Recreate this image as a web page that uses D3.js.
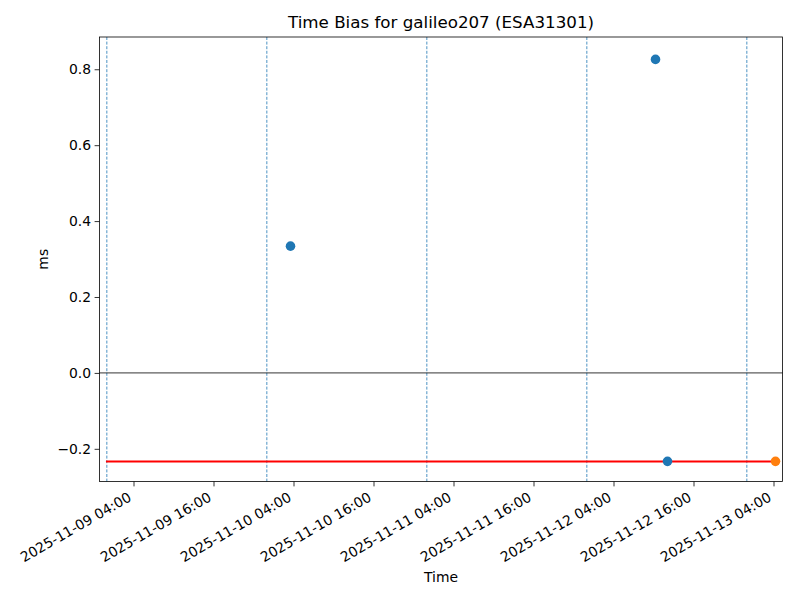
<!DOCTYPE html>
<html>
<head>
<meta charset="utf-8">
<script src="https://cdn.jsdelivr.net/npm/d3@7"></script>
<style>
  body { margin: 0; background: #fff; }
  svg text { font-family: "DejaVu Sans", sans-serif; }
</style>
</head>
<body>
<svg id="chart" width="800" height="600"></svg>
<script>
// ---- data ----
const blueTimes = ["2025-11-10T03:33", "2025-11-12T10:18", "2025-11-12T12:06"];
const blueValues = [0.334, 0.826, -0.233];
const orangeTimes = ["2025-11-13T04:18"];
const orangeValues = [-0.233];
const refLineTimes = ["2025-11-08T23:52", "2025-11-13T04:18"];
const refLineValue = -0.2334;
const dayLines = ["2025-11-09T00:00", "2025-11-10T00:00", "2025-11-11T00:00", "2025-11-12T00:00", "2025-11-13T00:00"];
const xTicks = ["2025-11-09T04:00", "2025-11-09T16:00", "2025-11-10T04:00", "2025-11-10T16:00", "2025-11-11T04:00", "2025-11-11T16:00", "2025-11-12T04:00", "2025-11-12T16:00", "2025-11-13T04:00"];
const yTicks = [-0.2, 0.0, 0.2, 0.4, 0.6, 0.8];
const xDomain = ["2025-11-08T22:54", "2025-11-13T05:21"];
const yDomain = [-0.2861, 0.8850];
const titleText = "Time Bias for galileo207 (ESA31301)";
const xLabel = "Time";
const yLabel = "ms";

(function () {
// ---- layout ----
const parse = d3.timeParse("%Y-%m-%dT%H:%M");
const pl = 99.5, pr = 782.5, pt = 37, pb = 481.5;
const svg = d3.select("#chart");
const x = d3.scaleTime().domain(xDomain.map(parse)).range([pl, pr]);
const y = d3.scaleLinear().domain(yDomain).range([pb, pt]);
const fmt = d3.timeFormat("%Y-%m-%d %H:%M");

const plot = svg.append("g");

// day lines
plot.selectAll("line.day").data(dayLines).enter().append("line")
  .attr("x1", d => x(parse(d))).attr("x2", d => x(parse(d)))
  .attr("y1", pt).attr("y2", pb)
  .attr("stroke", "#1f77b4").attr("stroke-width", 0.8)
  .attr("stroke-dasharray", "3,1.6");

// zero line
plot.append("line")
  .attr("x1", pl).attr("x2", pr)
  .attr("y1", y(0)).attr("y2", y(0))
  .attr("stroke", "#000").attr("stroke-width", 0.8);

// reference red line
plot.append("path")
  .datum(refLineTimes)
  .attr("d", d3.line().x(d => x(parse(d))).y(() => y(refLineValue)))
  .attr("stroke", "#ff0000").attr("stroke-width", 2).attr("fill", "none");

// points
plot.selectAll("circle.blue").data(blueTimes.map((t, i) => [t, blueValues[i]])).enter().append("circle")
  .attr("cx", d => x(parse(d[0]))).attr("cy", d => y(d[1])).attr("r", 4.8)
  .attr("fill", "#1f77b4");
plot.selectAll("circle.orange").data(orangeTimes.map((t, i) => [t, orangeValues[i]])).enter().append("circle")
  .attr("cx", d => x(parse(d[0]))).attr("cy", d => y(d[1])).attr("r", 4.8)
  .attr("fill", "#ff7f0e");

// axes
const xAxis = d3.axisBottom(x).tickValues(xTicks.map(parse)).tickFormat(fmt).tickSize(4.9).tickPadding(3.5);
const gx = svg.append("g").attr("transform", `translate(0,${pb})`).call(xAxis);
gx.select(".domain").remove();
gx.selectAll(".tick line").attr("stroke", "#000").attr("stroke-width", 0.8);
gx.selectAll(".tick text")
  .attr("font-size", "13.9px").attr("fill", "#000")
  .attr("text-anchor", "end")
  .attr("dy", null).attr("y", 0)
  .attr("transform", "translate(-1.6,18.5) rotate(-30)");

const yAxis = d3.axisLeft(y).tickValues(yTicks).tickFormat(d3.format(".1f")).tickSize(4.9).tickPadding(3.5);
const gy = svg.append("g").attr("transform", `translate(${pl},0)`).call(yAxis);
gy.select(".domain").remove();
gy.selectAll(".tick line").attr("stroke", "#000").attr("stroke-width", 0.8);
gy.selectAll(".tick text").attr("font-size", "13.9px").attr("fill", "#000").text(d => d3.format(".1f")(d).replace("-", "−"));

// frame
svg.append("rect").attr("x", pl).attr("y", pt).attr("width", pr - pl).attr("height", pb - pt)
  .attr("fill", "none").attr("stroke", "#000").attr("stroke-width", 0.8);

// labels
svg.append("text").attr("x", (pl + pr) / 2).attr("y", 28).attr("text-anchor", "middle")
  .attr("font-size", "16.7px").text(titleText);
svg.append("text").attr("x", (pl + pr) / 2).attr("y", 582).attr("text-anchor", "middle")
  .attr("font-size", "13.9px").text(xLabel);
svg.append("text").attr("transform", `translate(48,${(pt + pb) / 2}) rotate(-90)`).attr("text-anchor", "middle")
  .attr("font-size", "13.9px").text(yLabel);
})();
</script>
</body>
</html>
